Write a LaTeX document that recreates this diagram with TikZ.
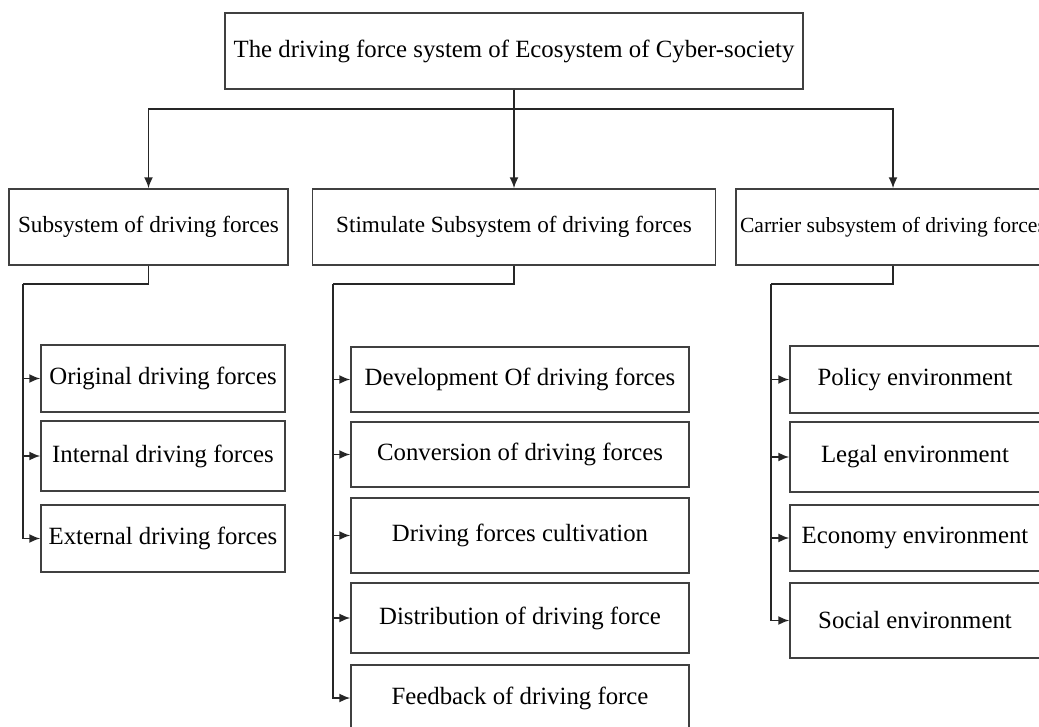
\documentclass[tikz,border=0pt]{standalone}
\usepackage{fontspec}
\setmainfont{Liberation Serif}
\usetikzlibrary{arrows.meta}
\usetikzlibrary{calc}
\tikzset{>={Latex[length=5.5pt,width=4.5pt]}}
\tikzset{topbox/.style={draw=black!75, line width=0.7pt, minimum width=289pt, minimum height=38pt, inner sep=0pt, font=\fontsize{12.4}{14}\selectfont}}
\tikzset{subbox/.style={draw=black!75, line width=0.7pt, minimum height=38pt, inner sep=0pt, font=\fontsize{11.6}{14}\selectfont}}
\tikzset{leaf/.style={draw=black!75, line width=0.7pt, minimum width=#1, inner sep=0pt, font=\fontsize{12.4}{14}\selectfont}}
\tikzset{ln/.style={draw=black!85, line width=0.9pt}}

\begin{document}
\begin{tikzpicture}[x=0.5pt, y=-0.5pt]
\useasboundingbox (0,0) rectangle (1039,727);
\clip (0,0) rectangle (1039,727);

\node[topbox] (top) at (514,51) {The driving force system of Ecosystem of Cyber-society};

\node[subbox, minimum width=139.5pt] (drv) at (148.5,227) {Subsystem of driving forces};
\node[subbox, minimum width=201.5pt] (stim) at (514,227) {Stimulate Subsystem of driving forces};
\node[subbox, minimum width=157pt, font=\fontsize{10.8}{13}\selectfont] (carr) at (893,227) {Carrier subsystem of driving forces};

% left column
\node[leaf=122pt, minimum height=33.5pt] (orig) at (163,378.5) {Original driving forces};
\node[leaf=122pt, minimum height=35pt] (intl) at (163,456) {Internal driving forces};
\node[leaf=122pt, minimum height=33.5pt] (extl) at (163,538.5) {External driving forces};

% middle column
\node[leaf=169pt, minimum height=32.5pt] (dev) at (520,379.5) {Development Of driving forces};
\node[leaf=169pt, minimum height=32.5pt] (conv) at (520,454.5) {Conversion of driving forces};
\node[leaf=169pt, minimum height=37.5pt] (cult) at (520,535.5) {Driving forces cultivation};
\node[leaf=169pt, minimum height=35pt] (dist) at (520,618) {Distribution of driving force};
\node[leaf=169pt, minimum height=33pt] (feed) at (520,698) {Feedback of driving force};

% right column
\node[leaf=125pt, minimum height=33.5pt] (pol) at (915,379.5) {Policy environment};
\node[leaf=125pt, minimum height=35pt] (legal) at (915,457) {Legal environment};
\node[leaf=125pt, minimum height=33pt] (econ) at (915,538) {Economy environment};
\node[leaf=125pt, minimum height=37.5pt] (soc) at (915,620.5) {Social environment};

\coordinate (sp1) at (23,284);
\coordinate (sp2) at (333,284);
\coordinate (sp3) at (771,284);

\foreach \s in {drv,stim,carr}
  \draw[ln,->] (top.south) -- ++(0,19) -| (\s.north);

\draw[ln] (drv.south) |- (sp1);
\foreach \n in {orig,intl,extl}
  \draw[ln,->] (sp1) |- (\n.west);

\draw[ln] (stim.south) |- (sp2);
\foreach \n in {dev,conv,cult,dist,feed}
  \draw[ln,->] (sp2) |- (\n.west);

\draw[ln] (carr.south) |- (sp3);
\foreach \n in {pol,legal,econ,soc}
  \draw[ln,->] (sp3) |- (\n.west);

\end{tikzpicture}
\end{document}
